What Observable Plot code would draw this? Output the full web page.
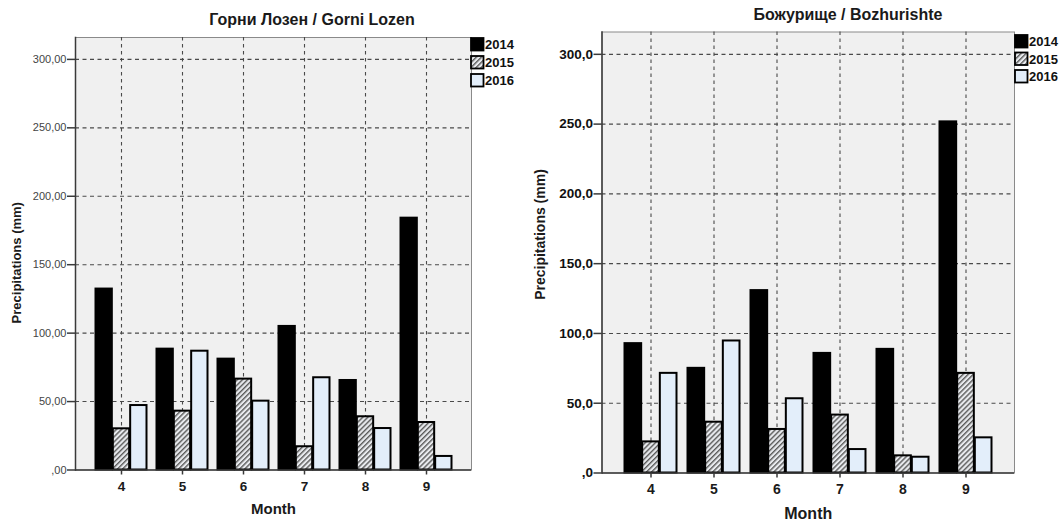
<!DOCTYPE html>
<html>
<head>
<meta charset="utf-8">
<script src="https://cdn.jsdelivr.net/npm/d3@7"></script>
<script src="https://cdn.jsdelivr.net/npm/@observablehq/plot@0.6"></script>
<style>
  body { margin: 0; background: #fff; font-family: "Liberation Sans", Arial, sans-serif; }
  #root { position: relative; width: 1064px; height: 525px; overflow: hidden; background: #fff; }
  .panel { position: absolute; top: 0; }
  .title { position: absolute; font-weight: bold; font-size: 16px; white-space: nowrap;
           transform: translate(-50%, -50%); color: #1a1a1a; }
  .legend { position: absolute; overflow: visible; }
</style>
</head>
<body>
<svg width="0" height="0" style="position:absolute">
  <defs>
    <pattern id="hatch" patternUnits="userSpaceOnUse" width="3.6" height="3.6" patternTransform="rotate(45)">
      <rect width="3.6" height="3.6" fill="#e8eaee"></rect>
      <rect width="1.4" height="3.6" fill="#5a5a5a"></rect>
    </pattern>
  </defs>
</svg>
<div id="root"></div>
<script>
// ---- data ----
const months = ["4", "5", "6", "7", "8", "9"];
const years = ["2014", "2015", "2016"];
const yTicks = [0, 50, 100, 150, 200, 250, 300];
const lozenTickLabels = [",00", "50,00", "100,00", "150,00", "200,00", "250,00", "300,00"];
const bozhTickLabels = [",0", "50,0", "100,0", "150,0", "200,0", "250,0", "300,0"];

const lozen2014 = [132.2, 88.3, 81.0, 104.9, 65.4, 184.0];
const lozen2015 = [30.1, 43.0, 66.4, 17.0, 38.9, 34.7];
const lozen2016 = [47.1, 86.8, 50.3, 67.4, 30.3, 9.9];

const bozh2014 = [92.7, 75.0, 130.7, 85.7, 88.6, 251.6];
const bozh2015 = [22.3, 36.4, 31.2, 41.5, 12.3, 71.4];
const bozh2016 = [71.4, 94.6, 53.2, 16.8, 11.3, 25.2];

const titles = ["Горни Лозен / Gorni Lozen", "Божурище / Bozhurishte"];
const xLabel = "Month";
const yLabel = "Precipitations (mm)";
const fills = ["#000000", "url(#hatch)", "#e3eefa"];

const FONT = "Liberation Sans, Arial, sans-serif";
const root = document.getElementById("root");

function makePanel(series, tickLabels, L) {
  const rows = [];
  months.forEach((m, i) => years.forEach((y, j) => rows.push({month: m, year: y, value: series[j][i]})));

  const base = {
    width: 532,
    height: 525,
    marginLeft: L.ml, marginRight: L.mr, marginTop: L.mt, marginBottom: L.mb,
    style: {fontFamily: FONT, background: "transparent", overflow: "visible"},
    x: {domain: months, paddingInner: 0.154, paddingOuter: 0.31, axis: null},
    y: {domain: [0, 316], axis: null},
    color: {domain: years, range: fills}
  };
  // probe the band scale to know each month group's width
  const probe = Plot.plot({...base, marks: [Plot.barY(rows, {x: "month", y: "value"})]});
  const bw = probe.scale("x").bandwidth;
  const sub = bw / years.length;
  const gap = 0.5;

  const bars = years.map((yr, j) =>
    Plot.barY(rows.filter(r => r.year === yr), {
      x: "month", y: "value", fill: "year", stroke: "#000", strokeWidth: 2,
      insetLeft: j * sub + gap, insetRight: (years.length - 1 - j) * sub + gap
    })
  );

  const chart = Plot.plot({
    ...base,
    marks: [
      Plot.frame({fill: "#f0f0f0", stroke: "#8a8a8a", strokeWidth: 1}),
      Plot.gridY({ticks: yTicks.slice(1), stroke: "#4a4a4a", strokeOpacity: 1, strokeWidth: 1.1, strokeDasharray: "4,3.5"}),
      Plot.gridX({stroke: "#4a4a4a", strokeOpacity: 1, strokeWidth: 1.1, strokeDasharray: "3.5,3.5"}),
      ...bars,
      Plot.ruleY([0], {stroke: "#3a3a3a", strokeWidth: 1.5}),
      Plot.frame({anchor: "left", stroke: "#3a3a3a", strokeWidth: 1.5}),
      Plot.axisY({ticks: yTicks, tickFormat: d => tickLabels[yTicks.indexOf(d)],
                  tickSize: 8, tickPadding: 1, fontSize: L.yFont, fontWeight: L.yWeight, fill: L.yFill,
                  stroke: "#3a3a3a", strokeWidth: 1.5, label: null}),
      Plot.axisX({anchor: "bottom", tickSize: 5, tickPadding: L.xPad, fontSize: L.xFont, fontWeight: "bold",
                  fill: "#1a1a1a", stroke: "#3a3a3a", strokeWidth: 1.5, label: null}),
      Plot.text([xLabel], {text: d => d, frameAnchor: "bottom", dy: L.monthDy, textAnchor: "middle",
                           fontSize: L.monthSize, fontWeight: "bold", fill: "#1a1a1a"}),
      Plot.text([yLabel], {text: d => d, frameAnchor: "left", dx: L.ylDx, dy: L.ylDy, textAnchor: "middle",
                           lineAnchor: "middle", rotate: -90, fontSize: L.ylSize, fontWeight: "bold", fill: "#1a1a1a"})
    ]
  });
  const div = document.createElement("div");
  div.className = "panel";
  div.style.left = L.left + "px";
  div.appendChild(chart);
  root.appendChild(div);

  // title
  const t = document.createElement("div");
  t.className = "title";
  t.textContent = L.title;
  t.style.left = L.tx + "px";
  t.style.top = L.ty + "px";
  root.appendChild(t);

  // legend (uses the chart's own color scale)
  const color = chart.scale("color");
  const lg = d3.create("svg").attr("class", "legend")
    .attr("width", 60).attr("height", 60)
    .style("left", L.lgx + "px").style("top", L.lgy + "px");
  color.domain.forEach((yr, i) => {
    lg.append("rect").attr("x", 1).attr("y", 1 + i * L.lgPitch).attr("width", 12.5).attr("height", 12.5)
      .attr("fill", color.range[i]).attr("stroke", "#000").attr("stroke-width", 1.8);
    lg.append("text").attr("x", 15).attr("y", 7.5 + i * L.lgPitch).attr("dy", "0.36em")
      .attr("font-family", FONT).attr("font-size", 13).attr("font-weight", "bold").attr("fill", "#111")
      .text(yr);
  });
  root.appendChild(lg.node());
}

makePanel([lozen2014, lozen2015, lozen2016], lozenTickLabels, {
  left: 0, ml: 75, mr: 61, mt: 37, mb: 55.5,
  yFont: 11, yWeight: "normal", yFill: "#444",
  xFont: 13.5, xPad: 6, monthDy: 44, monthSize: 15,
  ylDx: -59, ylDy: 9, ylSize: 13,
  title: titles[0], tx: 312, ty: 20,
  lgx: 470, lgy: 37, lgPitch: 18
});

makePanel([bozh2014, bozh2015, bozh2016], bozhTickLabels, {
  left: 532, ml: 69.5, mr: 50, mt: 31.5, mb: 52.5,
  yFont: 13.5, yWeight: "bold", yFill: "#111",
  xFont: 14, xPad: 6.5, monthDy: 46, monthSize: 16,
  ylDx: -61, ylDy: -18, ylSize: 14,
  title: titles[1], tx: 848, ty: 15,
  lgx: 1014, lgy: 34, lgPitch: 17.5
});
</script>
</body>
</html>
